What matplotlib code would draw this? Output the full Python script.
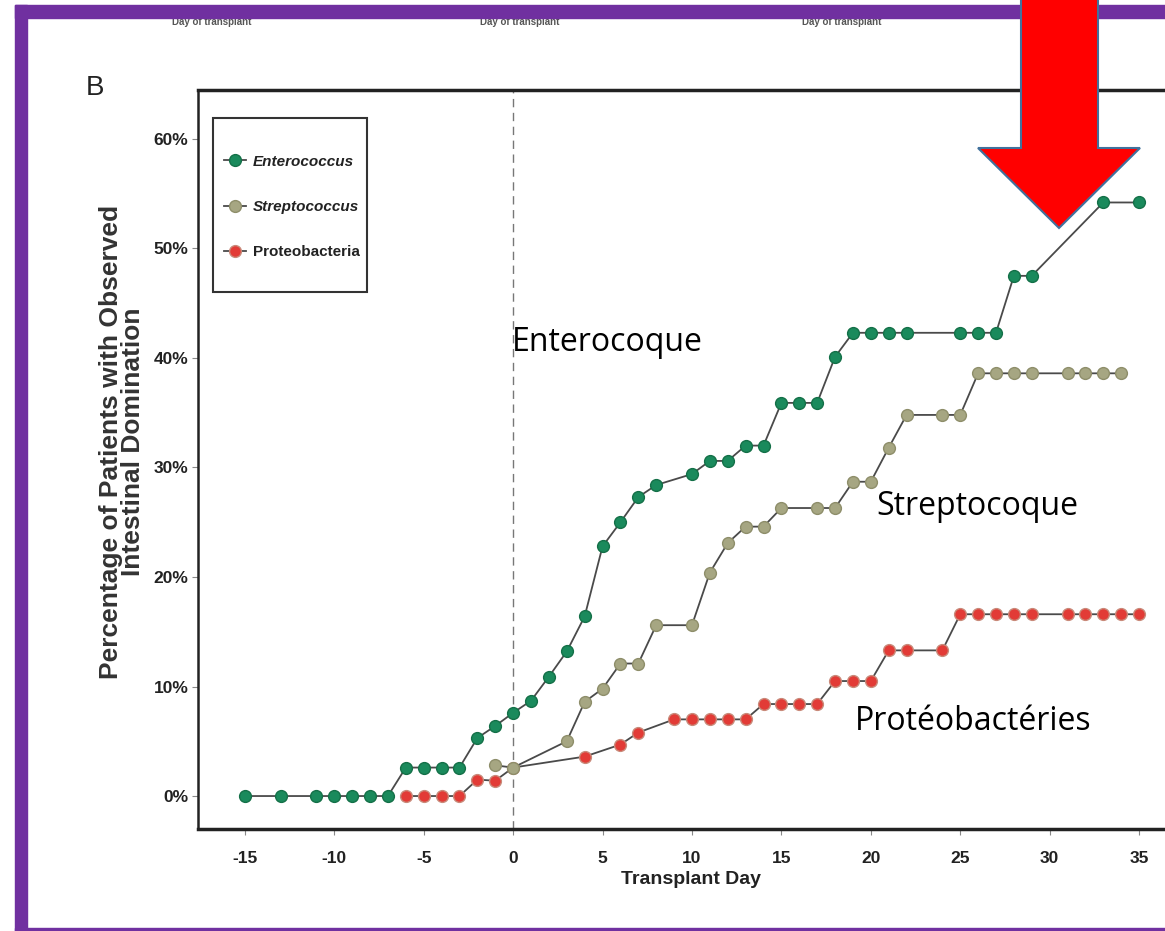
#!/usr/bin/env python3

import matplotlib
matplotlib.use("Agg")
import matplotlib.pyplot as plt
from matplotlib.patches import Polygon, Rectangle

# cumulative % of patients with observed domination, by transplant day
entero_days = [-15, -13, -11, -10, -9, -8, -7, -6, -5, -4, -3, -2, -1, 0, 1, 2, 3, 4, 5, 6, 7, 8,
               10, 11, 12, 13, 14, 15, 16, 17, 18, 19, 20, 21, 22, 25, 26, 27, 28, 29, 33, 35]
entero_vals = [0, 0, 0, 0, 0, 0, 0, 2.6, 2.6, 2.6, 2.6, 5.3, 6.4, 7.6, 8.7, 10.9, 13.2, 16.4, 22.8, 25.0, 27.3, 28.4,
               29.4, 30.6, 30.6, 32.0, 32.0, 35.9, 35.9, 35.9, 40.1, 42.3, 42.3, 42.3, 42.3, 42.3, 42.3, 42.3, 47.5, 47.5, 54.2, 54.2]

strep_days = [-1, 0, 3, 4, 5, 6, 7, 8, 10, 11, 12, 13, 14, 15, 17, 18, 19, 20, 21, 22, 24, 25,
              26, 27, 28, 29, 31, 32, 33, 34]
strep_vals = [2.8, 2.6, 5.0, 8.6, 9.8, 12.1, 12.1, 15.6, 15.6, 20.4, 23.1, 24.6, 24.6, 26.3, 26.3, 26.3, 28.7, 28.7,
              31.8, 34.8, 34.8, 34.8, 38.6, 38.6, 38.6, 38.6, 38.6, 38.6, 38.6, 38.6]

proteo_days = [-6, -5, -4, -3, -2, -1, 0, 4, 6, 7, 9, 10, 11, 12, 13, 14, 15, 16, 17, 18, 19, 20,
               21, 22, 24, 25, 26, 27, 28, 29, 31, 32, 33, 34, 35]
proteo_vals = [0, 0, 0, 0, 1.5, 1.4, 2.6, 3.6, 4.7, 5.8, 7.0, 7.0, 7.0, 7.0, 7.0, 8.4, 8.4, 8.4, 8.4,
               10.5, 10.5, 10.5, 13.3, 13.3, 13.3, 16.6, 16.6, 16.6, 16.6, 16.6, 16.6, 16.6, 16.6, 16.6, 16.6]

x_ticks = [-15, -10, -5, 0, 5, 10, 15, 20, 25, 30, 35]
y_ticks = [0, 10, 20, 30, 40, 50, 60]

W, H = 1165, 931
NARROW = ["Liberation Sans Narrow", "Liberation Sans", "DejaVu Sans"]
CALIBRI_LIKE = ["Open Sans", "DejaVu Sans"]
PURPLE = "#7030A0"

plt.rcParams["axes.unicode_minus"] = False


def fx(px):
    return px / W


def fy(py):
    return 1 - py / H


fig = plt.figure(figsize=(W / 100, H / 100), dpi=100)

# axes: left spine at 198px, top at 90px, bottom at 829px, right edge cut off
ax = fig.add_axes([fx(198), fy(829), fx(1182 - 198), (829 - 90) / H])
ax.set_xlim(-17.62, 37.4)
ax.set_ylim(-3.01, 64.47)

line_kw = dict(color="#4a4a4a", linewidth=1.3, markersize=8.5, markeredgewidth=1.0, clip_on=False)
ax.plot(proteo_days, proteo_vals, marker="o", markerfacecolor="#e23b36",
        markeredgecolor="#c98a7a", label="Proteobacteria", zorder=3, **line_kw)
ax.plot(strep_days, strep_vals, marker="o", markerfacecolor="#a6a682",
        markeredgecolor="#8e8e6a", label="Streptococcus", zorder=4, **line_kw)
ax.plot(entero_days, entero_vals, marker="o", markerfacecolor="#1a8a5c",
        markeredgecolor="#147048", label="Enterococcus", zorder=5, **line_kw)

ax.axvline(0, color="#777777", linewidth=1.0, linestyle=(0, (6, 4)), zorder=1)

ax.set_xticks(x_ticks)
ax.set_yticks(y_ticks)
ax.set_yticklabels([f"{v}%" for v in y_ticks])
ax.tick_params(axis="both", length=4, width=0.8, color="#888888", labelsize=12.5)
ax.tick_params(axis="x", pad=12)
ax.tick_params(axis="y", pad=3)
for lab in ax.get_xticklabels() + ax.get_yticklabels():
    lab.set_family(NARROW)
    lab.set_fontweight("bold")
    lab.set_color("#222222")

ax.spines["right"].set_visible(False)
ax.spines["top"].set_linewidth(2.5)
ax.spines["bottom"].set_linewidth(2.5)
ax.spines["left"].set_linewidth(1.8)
for s in ("top", "bottom", "left"):
    ax.spines[s].set_color("#222222")

# legend in the same order as the original; the box is drawn separately
handles, labels = ax.get_legend_handles_labels()
order = [2, 1, 0]
leg = fig.legend([handles[i] for i in order], [labels[i] for i in order],
                 loc="upper left", bbox_to_anchor=(fx(219), fy(150)), borderaxespad=0,
                 frameon=False, handlelength=1.45, handletextpad=0.45, labelspacing=2.05,
                 borderpad=0.3, prop={"family": NARROW, "size": 11, "weight": "bold"})
for t, st in zip(leg.get_texts(), ["italic", "italic", "normal"]):
    t.set_fontstyle(st)
    t.set_color("#222222")
fig.patches.append(Rectangle((fx(213), fy(292)), fx(367 - 213), (292 - 118) / H,
                             transform=fig.transFigure, facecolor="white",
                             edgecolor="#333333", linewidth=1.5, zorder=0))

# axis labels
fig.text(fx(691), fy(880), "Transplant Day", ha="center", va="center",
         family=NARROW, fontsize=14, fontweight="bold", color="#222222")
fig.text(fx(122), fy(442), "Percentage of Patients with Observed\nIntestinal Domination",
         ha="center", va="center", rotation=90, family=NARROW, fontsize=19,
         fontweight="bold", color="#333333", linespacing=0.9)
fig.text(fx(95), fy(88), "B", ha="center", va="center", family=NARROW,
         fontsize=20, color="#222222")

# cropped captions of the panel above
for cx in (212, 520, 842):
    fig.text(fx(cx), fy(22), "Day of transplant", ha="center", va="center",
             family=NARROW, fontsize=7, fontweight="bold", color="#555555")

# French annotations
ax.text(-0.05, 41.4, "Enterocoque", ha="left", va="center",
        family=CALIBRI_LIKE, fontsize=23, color="black")
ax.text(20.3, 26.4, "Streptocoque", ha="left", va="center",
        family=CALIBRI_LIKE, fontsize=23, color="black")
ax.text(19.1, 6.8, "Protéobactéries", ha="left", va="center",
        family=CALIBRI_LIKE, fontsize=23, color="black")

# purple frame
fig.patches.append(Rectangle((fx(15), fy(18)), fx(1165 - 15), 13 / H,
                             transform=fig.transFigure, color=PURPLE, zorder=10))
fig.patches.append(Rectangle((fx(15), 0), fx(12), fy(5),
                             transform=fig.transFigure, color=PURPLE, zorder=10))
fig.patches.append(Rectangle((fx(15), 0), fx(1165 - 15), 3 / H,
                             transform=fig.transFigure, color=PURPLE, zorder=10))

# big red arrow
arrow_px = [(1021, -5), (1021, 148), (978, 148), (1059, 228), (1140, 148), (1098, 148), (1098, -5)]
fig.patches.append(Polygon([(fx(x), fy(y)) for x, y in arrow_px], closed=True,
                           transform=fig.transFigure, facecolor="#ff0000",
                           edgecolor="#41719c", linewidth=1.5, zorder=11))

fig.savefig("out.png", dpi=100)
